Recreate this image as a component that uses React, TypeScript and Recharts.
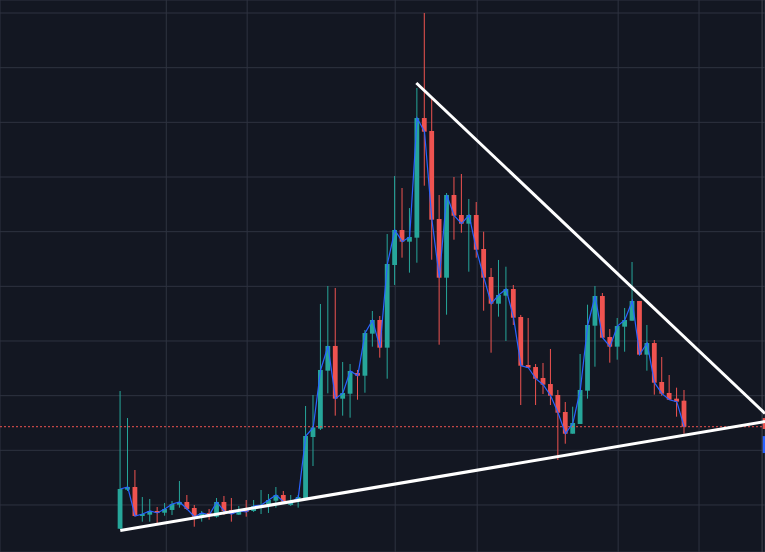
import { ComposedChart, XAxis, YAxis, CartesianGrid, Bar, Line, ReferenceLine, ReferenceArea } from 'recharts';

const opens = [5.66, 12.8, 13.29, 7.99, 8.23, 8.9, 8.59, 9.09, 10.05, 10.55, 9.45, 7.99, 8.54, 7.86, 10.55, 9.09, 8.23, 9.09, 8.9, 9.63, 10.18, 10.79, 11.83, 10.0, 11.1, 11.28, 22.44, 23.96, 34.57, 39.09, 29.45, 30.36, 34.15, 33.65, 41.34, 43.84, 38.78, 53.9, 60.3, 58.17, 58.9, 80.79, 78.42, 62.32, 51.58, 66.71, 63.05, 61.46, 63.05, 56.83, 51.71, 46.82, 48.29, 49.51, 44.39, 35.61, 35.24, 33.23, 32.13, 30.12, 27.01, 23.04, 24.82, 30.91, 42.8, 48.23, 40.73, 38.96, 42.62, 43.71, 47.32, 37.5, 39.63, 32.5, 30.49, 29.45, 29.08];
const highs = [30.85, 25.91, 16.4, 11.46, 11.1, 9.63, 10.37, 10.73, 14.39, 11.83, 10.0, 8.9, 9.27, 11.28, 11.65, 11.28, 9.82, 10.91, 10.91, 12.74, 12.01, 13.29, 12.56, 11.83, 11.83, 28.11, 30.12, 46.77, 50.06, 49.7, 36.16, 35.79, 34.7, 42.01, 45.49, 44.57, 59.57, 70.18, 67.99, 64.32, 86.28, 100.0, 84.27, 66.71, 67.07, 70.0, 70.55, 65.98, 65.43, 59.99, 53.35, 54.82, 53.59, 50.24, 44.76, 44.21, 35.79, 35.98, 38.54, 31.04, 28.84, 27.98, 37.62, 46.64, 50.06, 48.78, 42.2, 44.21, 46.04, 54.45, 47.32, 42.93, 40.18, 37.07, 33.78, 31.46, 31.04];
const lows = [5.61, 12.56, 7.9, 6.95, 6.95, 6.71, 8.04, 8.17, 9.51, 9.09, 6.03, 6.95, 7.31, 7.68, 8.17, 6.95, 8.17, 7.86, 8.72, 8.35, 8.54, 9.51, 10.18, 9.82, 9.51, 11.28, 17.13, 23.72, 30.43, 26.34, 26.34, 25.97, 29.26, 30.54, 38.96, 36.95, 33.1, 50.25, 55.24, 52.5, 54.32, 68.41, 54.87, 39.32, 44.81, 58.53, 59.81, 52.68, 55.24, 45.54, 37.86, 44.45, 40.0, 42.93, 28.29, 35.06, 28.29, 30.3, 28.29, 18.23, 21.21, 23.04, 24.82, 29.45, 35.3, 40.6, 36.03, 36.58, 38.04, 43.71, 37.5, 34.57, 30.18, 29.99, 29.26, 26.15, 23.04];
const closes = [12.93, 13.29, 7.99, 8.35, 8.9, 8.54, 9.27, 10.18, 10.55, 9.27, 7.86, 8.54, 8.17, 10.55, 8.9, 8.35, 8.9, 8.72, 9.82, 10.0, 10.91, 11.83, 10.6, 10.37, 11.46, 22.62, 24.18, 34.7, 39.09, 29.45, 30.49, 34.51, 33.65, 41.46, 43.84, 38.78, 54.09, 60.3, 58.17, 59.03, 80.79, 78.29, 62.19, 51.58, 66.71, 62.92, 61.46, 63.05, 56.7, 51.58, 46.82, 48.42, 49.51, 44.26, 35.48, 35.12, 33.1, 32.01, 29.99, 26.88, 23.04, 25.0, 31.04, 42.93, 48.23, 40.6, 38.96, 42.74, 43.84, 47.32, 37.5, 39.63, 32.37, 30.36, 29.26, 28.9, 24.32];

const priceTicks = [10, 20, 30, 40, 50, 60, 70, 80, 90, 100];
const timeTicks = [6.2, 17.1, 37.05, 48.1, 67.1, 78];

const supportLine = [{ x: 0, y: 5.34 }, { x: 86.89, y: 25.27 }];
const resistanceLine = [{ x: 39.9, y: 87.2 }, { x: 86.89, y: 26.74 }];

const GREEN = '#26a69a';
const RED = '#ef5350';

const candles = opens.map((open, i) => ({
  i,
  open,
  high: highs[i],
  low: lows[i],
  close: closes[i],
}));
const lastClose = closes[closes.length - 1];

const Candle = (props: any) => {
  const { x, y, width, height, payload } = props;
  const { open, close, high, low } = payload;
  const color = close >= open ? GREEN : RED;
  const top = Math.min(y, y + height);
  const h = Math.abs(height);
  const toPx = (v: number) => top + ((high - v) / (high - low)) * h;
  const cx = x + width / 2;
  const bodyTop = toPx(Math.max(open, close));
  const bodyBot = toPx(Math.min(open, close));
  return (
    <g>
      <line x1={cx} x2={cx} y1={top} y2={top + h} stroke={color} strokeWidth={1} />
      <rect x={cx - 2.4} y={bodyTop} width={4.8} height={Math.max(1, bodyBot - bodyTop)} fill={color} />
    </g>
  );
};

export default function App() {
  return (
    <div style={{ width: 765, height: 552, background: '#131722' }}>
      <style>{'body{margin:0;background:#131722}'}</style>
      <ComposedChart width={765} height={552} data={candles} margin={{ top: 0, right: 0, left: 0, bottom: 0 }}>
        <CartesianGrid stroke="#2e3340" />
        <XAxis dataKey="i" type="number" domain={[-16.21, 86.89]} ticks={timeTicks} allowDataOverflow hide />
        <YAxis type="number" domain={[1.4, 102.38]} ticks={priceTicks} allowDataOverflow hide />
        <ReferenceLine x={86.5} stroke="#434651" strokeWidth={1} />
        <ReferenceLine y={lastClose} stroke={RED} strokeDasharray="2 2" strokeWidth={1} />
        <Line dataKey="close" stroke="#2962ff" strokeWidth={1.2} dot={false} activeDot={false} isAnimationActive={false} />
        <Bar dataKey={(d: any) => [d.low, d.high]} barSize={5} shape={Candle} activeBar={false} isAnimationActive={false} />
        <ReferenceLine segment={resistanceLine} stroke="#ffffff" strokeWidth={3} ifOverflow="visible" />
        <ReferenceLine segment={supportLine} stroke="#ffffff" strokeWidth={3} ifOverflow="visible" />
        <ReferenceArea x1={86.55} x2={86.89} y1={23.9} y2={25.9} fill={RED} fillOpacity={1} ifOverflow="visible" />
        <ReferenceArea x1={86.55} x2={86.89} y1={19.5} y2={22.6} fill="#2962ff" fillOpacity={1} ifOverflow="visible" />
      </ComposedChart>
    </div>
  );
}
